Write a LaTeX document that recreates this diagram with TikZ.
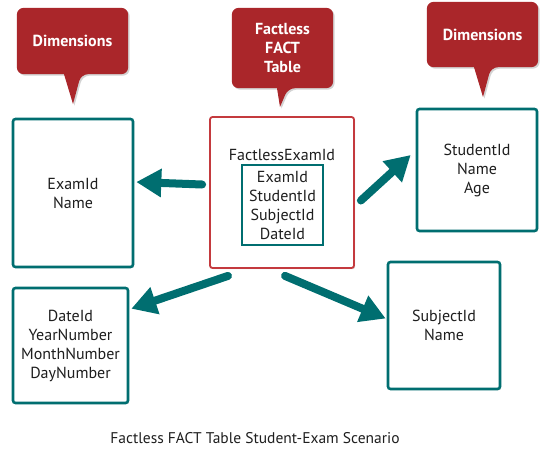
\documentclass[tikz,border=0pt]{standalone}
\usepackage{fontspec}
\setmainfont{PT Sans}
\usetikzlibrary{arrows.meta,calc,shadows,backgrounds}
\definecolor{cred}{RGB}{170,38,42}
\definecolor{bred}{RGB}{196,58,62}
\definecolor{teal}{RGB}{0,110,112}
\definecolor{txt}{RGB}{30,30,30}
\tikzset{
  tbox/.style={draw=teal, line width=2.6pt, rounded corners=2.5pt, fill=white, text=txt,
    align=center, font=\fontsize{16}{19}\selectfont, inner sep=0pt,
    drop shadow={opacity=0.25, shadow xshift=1.2pt, shadow yshift=-1.2pt}},
  fbox/.style={draw=bred, line width=1.8pt, rounded corners=2.5pt, fill=white,
    drop shadow={opacity=0.25, shadow xshift=1.2pt, shadow yshift=-1.2pt}},
  ibox/.style={draw=teal, line width=2pt, fill=white, text=txt, align=center,
    font=\fontsize{16}{19}\selectfont, inner sep=0pt,
    drop shadow={opacity=0.25, shadow xshift=1pt, shadow yshift=-1pt}},
  ctext/.style={text=white, align=center, font=\bfseries\fontsize{16}{19}\selectfont, inner sep=0pt},
  cshape/.style={fill=cred, drop shadow={opacity=0.35, shadow xshift=1.5pt, shadow yshift=-1.5pt}},
  arr/.style={draw=teal, line width=8pt, line cap=round, -{Triangle[length=25pt,width=27pt]},
    drop shadow={opacity=0.2, shadow xshift=1.2pt, shadow yshift=-1.2pt}},
  lbl/.style={text=txt, font=\fontsize{16}{19}\selectfont, align=center, inner sep=0pt}
}
\begin{document}
\begin{tikzpicture}[x=1pt,y=-1pt]
\useasboundingbox (0,0) rectangle (557,461);
% callouts
\node[ctext, minimum width=111pt, minimum height=66pt] (c1) at (72.5,41) {Dimensions};
\node[ctext, minimum width=101pt, minimum height=80pt] (c2) at (282.5,48) {Factless\\FACT\\Table};
\node[ctext, minimum width=111pt, minimum height=65pt] (c3) at (482.5,34.5) {Dimensions};
\coordinate (t1) at (73,104);
\coordinate (t2) at (280,107);
\coordinate (t3) at (483,97);
\begin{pgfonlayer}{background}
\foreach \c/\t/\h in {c1/t1/8.5, c2/t2/5.5, c3/t3/8.5}{
  \path[cshape, rounded corners=7pt] (\c.north west) -- (\c.north east) -- (\c.south east)
    -- ($(\c.south)+(\h,0)$) [sharp corners] -- (\t) -- ($(\c.south)+(-\h,0)$)
    [rounded corners=7pt] -- (\c.south west) -- cycle;
}
\end{pgfonlayer}
% boxes
\node[tbox, minimum width=120pt, minimum height=148pt] (exam) at (73,193) {ExamId\\Name};
\node[fbox, minimum width=144pt, minimum height=151pt] (fact) at (282,192.5) {};
\node[lbl] (factid) at (282,155) {FactlessExamId};
\node[ibox, minimum width=81pt, minimum height=80pt] (keys) at (282.5,205) {ExamId\\StudentId\\SubjectId\\DateId};
\node[tbox, minimum width=120pt, minimum height=122pt] (student) at (477,170) {StudentId\\Name\\Age};
\node[tbox, minimum width=115pt, minimum height=115pt] (date) at (70.5,345.5) {DateId\\YearNumber\\MonthNumber\\DayNumber};
\node[tbox, minimum width=112pt, minimum height=127pt] (subject) at (444,325.5) {SubjectId\\Name};
% arrows
\draw[arr] ($(fact.west)+(-7,-8)$) -- ($(exam.east)+(2,-11)$);
\draw[arr] ($(fact.east)+(6,8)$) -- ($(student.west)+(-5,-15)$);
\draw[arr] ($(fact.south)+(-54,7)$) -- ($(date.north east)+(2,22)$);
\draw[arr] ($(fact.south)+(3,7)$) -- ($(subject.west)+(-1,-7)$);
% caption
\node[lbl, font=\fontsize{15.5}{19}\selectfont] (cap) at (255,438) {Factless FACT Table Student-Exam Scenario};
\end{tikzpicture}
\end{document}
